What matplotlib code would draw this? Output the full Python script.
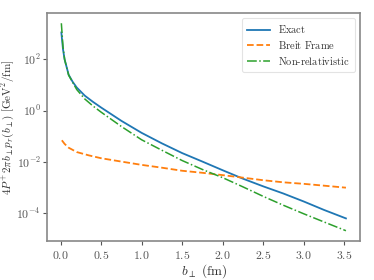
import numpy as np
import matplotlib
matplotlib.use("Agg")
import matplotlib.pyplot as plt
from matplotlib.ticker import NullLocator

# values (b_perp in fm, density in GeV^2/fm)
b_exact = [0.01, 0.03, 0.05, 0.1, 0.15, 0.2, 0.3, 0.4, 0.5, 0.75, 1.0, 1.25, 1.5,
           1.75, 2.0, 2.25, 2.5, 2.75, 3.0, 3.25, 3.52]
exact = [1122, 251, 100, 25.1, 13.2, 7.94, 3.80, 2.19, 1.32, 0.398, 0.135, 0.0525,
         0.0219, 0.0102, 4.68e-3, 2.19e-3, 1.10e-3, 5.75e-4, 2.82e-4, 1.32e-4, 6.17e-5]

b_breit = [0.016, 0.05, 0.1, 0.2, 0.35, 0.5, 0.75, 1.0, 1.25, 1.5, 1.75, 2.0, 2.25,
           2.5, 2.75, 3.0, 3.25, 3.52]
breit = [0.0692, 0.0501, 0.0355, 0.024, 0.0178, 0.0138, 0.0102, 7.59e-3, 5.89e-3,
         4.47e-3, 3.72e-3, 3.02e-3, 2.40e-3, 1.91e-3, 1.58e-3, 1.38e-3, 1.17e-3, 9.77e-4]

b_nonrel = b_exact
nonrel = [2570, 316, 100, 24.0, 12.6, 6.61, 2.82, 1.51, 0.871, 0.240, 0.0724, 0.0282,
          0.0112, 5.01e-3, 2.40e-3, 1.05e-3, 4.47e-4, 2.0e-4, 9.33e-5, 4.47e-5, 2.04e-5]

ytick_vals = [1e-4, 1e-2, 1e0, 1e2]
xtick_vals = [0.0, 0.5, 1.0, 1.5, 2.0, 2.5, 3.0, 3.5]

plt.rcParams["font.family"] = "serif"
plt.rcParams["font.serif"] = ["cmr10"]
plt.rcParams["mathtext.fontset"] = "cm"
plt.rcParams["axes.formatter.use_mathtext"] = True

fig = plt.figure(figsize=(3.74, 2.8), dpi=100)
ax = fig.add_axes([0.126, 0.139, 0.837, 0.815])

ax.plot(b_exact, exact, color="#1f77b4", lw=1.3, label=r"$\mathrm{Exact}$")
ax.plot(b_breit, breit, color="#ff7f0e", lw=1.3, ls="--", label=r"$\mathrm{Breit\ Frame}$")
ax.plot(b_nonrel, nonrel, color="#2ca02c", lw=1.1, ls="-.", label=r"$\mathrm{Non}$-$\mathrm{relativistic}$")

ax.set_yscale("log")
ax.set_yticks(ytick_vals)
ax.yaxis.set_minor_locator(NullLocator())
ax.set_xticks(xtick_vals)
ax.set_xticklabels([r"$%.1f$" % v for v in xtick_vals])

ax.set_xlabel(r"$b_\perp\ (\mathrm{fm})$", fontsize=9.5, color="#333333", labelpad=1)
ax.set_ylabel(r"$4P^{+}\,2\pi b_\perp p_r(b_\perp)\ [\mathrm{GeV}^2/\mathrm{fm}]$",
              fontsize=8, color="#333333")
ax.yaxis.set_label_coords(-0.1, 0.5)

for s in ax.spines.values():
    s.set_color("#888888")
    s.set_linewidth(1.2)
ax.tick_params(colors="#555555", labelsize=8.5, length=3, width=0.8, pad=1.5)
ax.tick_params(axis="x", pad=2.5)

leg = ax.legend(loc="upper right", fontsize=7.5, frameon=True, fancybox=True,
                handlelength=2.2, borderpad=0.5, labelspacing=0.35)
leg.get_frame().set_edgecolor("#dddddd")
leg.get_frame().set_linewidth(0.8)
for t in leg.get_texts():
    t.set_color("#333333")

fig.savefig("out.png", dpi=100)
